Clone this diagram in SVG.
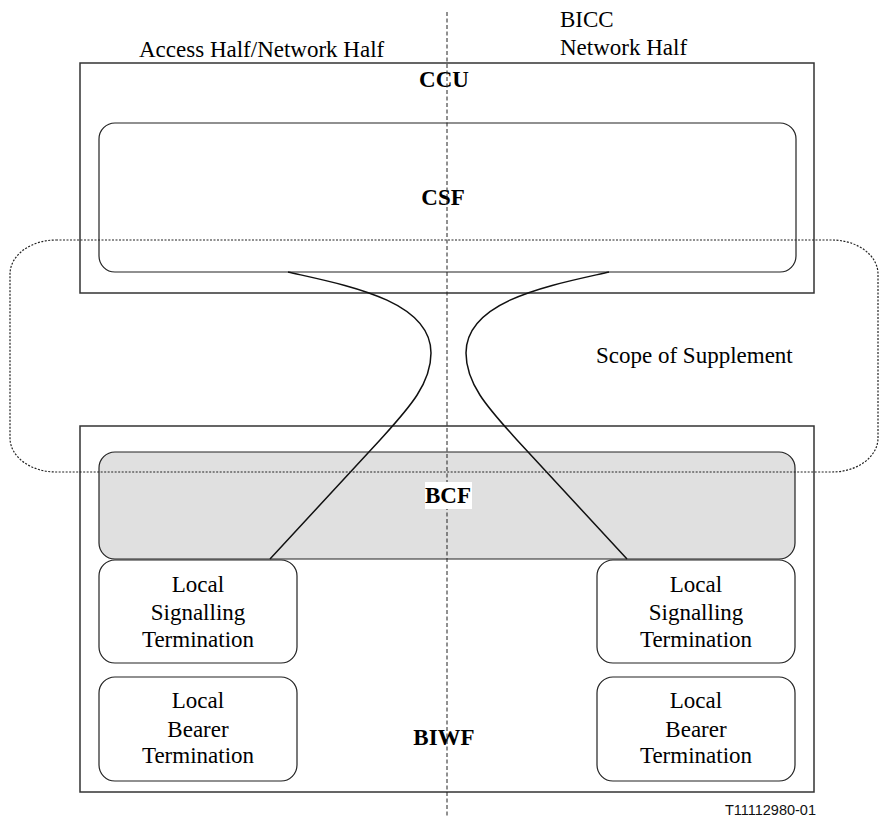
<svg xmlns="http://www.w3.org/2000/svg" width="880" height="820" viewBox="0 0 880 820">
<style>
.t{font-family:"Liberation Serif","Times New Roman",serif;font-size:23px;fill:#000}
.b{font-weight:bold}
.c{text-anchor:middle}
.box{fill:none;stroke:#333;stroke-width:1.5}
.rb{fill:#fff;stroke:#222;stroke-width:1.2}
.conn{fill:none;stroke:#111;stroke-width:1.5}
</style>
<rect width="880" height="820" fill="#fff"/>
<g id="labels">
<text class="t" x="139" y="57">Access Half/Network Half</text>
<text class="t" x="560" y="27">BICC</text>
<text class="t" x="560" y="55">Network Half</text>
</g>
<g id="CCU">
<rect class="box" x="80" y="63" width="734" height="230"/>
<text class="t b c" x="444" y="87">CCU</text>
</g>
<g id="CSF">
<rect class="rb" x="99" y="123" width="697" height="149" rx="16" ry="16"/>
<text class="t b c" x="443" y="205">CSF</text>
</g>
<g id="BIWF">
<rect class="box" x="80" y="426" width="734" height="366"/>
<text class="t b c" x="444" y="745">BIWF</text>
</g>
<g id="BCF">
<rect x="99" y="452" width="696" height="107" rx="16" ry="16" fill="#e0e0e0" stroke="#222" stroke-width="1.2"/>
</g>
<g id="LST-left">
<rect class="rb" x="99" y="560" width="198" height="103" rx="16" ry="16"/>
<text class="t c" x="198" y="592">Local</text>
<text class="t c" x="198" y="620">Signalling</text>
<text class="t c" x="198" y="647">Termination</text>
</g>
<g id="LST-right">
<rect class="rb" x="597" y="560" width="198" height="103" rx="16" ry="16"/>
<text class="t c" x="696" y="592">Local</text>
<text class="t c" x="696" y="620">Signalling</text>
<text class="t c" x="696" y="647">Termination</text>
</g>
<g id="LBT-left">
<rect class="rb" x="99" y="677" width="198" height="104" rx="16" ry="16"/>
<text class="t c" x="198" y="708">Local</text>
<text class="t c" x="198" y="737">Bearer</text>
<text class="t c" x="198" y="763">Termination</text>
</g>
<g id="LBT-right">
<rect class="rb" x="597" y="677" width="198" height="104" rx="16" ry="16"/>
<text class="t c" x="696" y="708">Local</text>
<text class="t c" x="696" y="737">Bearer</text>
<text class="t c" x="696" y="763">Termination</text>
</g>
<g id="connectors">
<path class="conn" d="M288,272 C345,285 431,300 431,353 C431,385 407,410 380,440 L270,559"/>
<path class="conn" d="M609,272 C552,285 466,300 466,353 C466,385 490,410 517,440 L627,559"/>
</g>
<g id="scope">
<rect x="10" y="240" width="868" height="232" rx="46" ry="34" fill="none" stroke="#222" stroke-width="1.2" stroke-dasharray="2,1.5"/>
<text class="t" x="596" y="363">Scope of Supplement</text>
</g>
<g id="divider">
<line x1="447" y1="12" x2="447" y2="818" stroke="#222" stroke-width="1" stroke-dasharray="4,2.5"/>
</g>
<g id="BCF-label">
<rect x="425" y="482" width="47" height="27" fill="#fff"/>
<text class="t b c" x="448" y="503">BCF</text>
</g>
<text x="816" y="815" text-anchor="end" font-family="Liberation Sans,Arial,sans-serif" font-size="14.5" fill="#111">T11112980-01</text>
</svg>
